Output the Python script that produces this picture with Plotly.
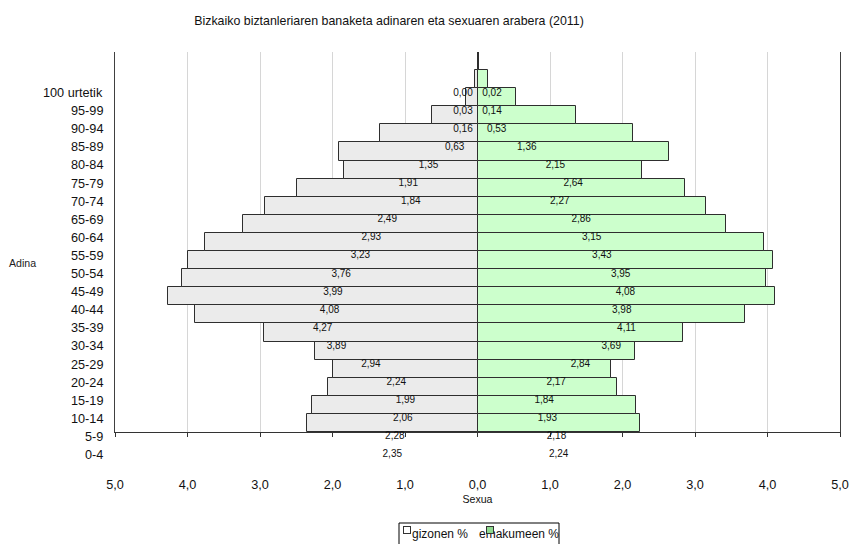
import plotly.graph_objects as go

# Bizkaia 2011: population share (%) by age group and sex
age_groups = ["0-4", "5-9", "10-14", "15-19", "20-24", "25-29", "30-34", "35-39",
              "40-44", "45-49", "50-54", "55-59", "60-64", "65-69", "70-74", "75-79",
              "80-84", "85-89", "90-94", "95-99", "100 urtetik"]
men_pct = [2.35, 2.28, 2.06, 1.99, 2.24, 2.94, 3.89, 4.27, 4.08, 3.99, 3.76, 3.23,
           2.93, 2.49, 1.84, 1.91, 1.35, 0.63, 0.16, 0.03, 0.00]
women_pct = [2.24, 2.18, 1.93, 1.84, 2.17, 2.84, 3.69, 4.11, 3.98, 4.08, 3.95, 3.43,
             3.15, 2.86, 2.27, 2.64, 2.15, 1.36, 0.53, 0.14, 0.02]
x_tick_vals = [-5, -4, -3, -2, -1, 0, 1, 2, 3, 4, 5]
x_tick_text = ["5,0", "4,0", "3,0", "2,0", "1,0", "0,0", "1,0", "2,0", "3,0", "4,0", "5,0"]

FONT = "Arial, 'Liberation Sans', sans-serif"
W, H = 853, 544
L, R, T, B = 115, 13, 52, 74
PW, PH = W - L - R, H - T - B
BAR_BOTTOM = 432            # pixel row of the horizontal axis line
LABEL_SHIFT = 1.77          # category/value labels sit this many rows below their bars
MIN_HALF = 0.2              # keep value labels clear of the centre line


def fmt(v):
    return f"{v:.2f}".replace(".", ",")


def px_x(p):
    return (p - L) / PW


def px_y(p):
    return (H - B - p) / PH


idx = list(range(len(age_groups)))
n_rows = len(age_groups)
bar_dom0 = (H - B - BAR_BOTTOM) / PH
row_px = (BAR_BOTTOM - T) / n_rows
label_span = PH / row_px
label_top = n_rows - 0.5 + LABEL_SHIFT

fig = go.Figure()

fig.add_trace(go.Bar(
    name="gizonen %", y=idx, x=[-v for v in men_pct], orientation="h", width=1,
    marker=dict(color="#EBEBEB", line=dict(color="#2E2E2E", width=1)),
    hoverinfo="skip", showlegend=False))
fig.add_trace(go.Bar(
    name="emakumeen %", y=idx, x=women_pct, orientation="h", width=1,
    marker=dict(color="#CCFFCC", line=dict(color="#2E2E2E", width=1)),
    hoverinfo="skip", showlegend=False))

# value labels
fig.add_trace(go.Scatter(
    x=[-max(v / 2, MIN_HALF) for v in men_pct], y=idx, text=[fmt(v) for v in men_pct],
    mode="text", textposition="middle center", textfont=dict(size=10, color="#111"),
    xaxis="x2", yaxis="y2", cliponaxis=False, hoverinfo="skip", showlegend=False))
fig.add_trace(go.Scatter(
    x=[max(v / 2, MIN_HALF) for v in women_pct], y=idx, text=[fmt(v) for v in women_pct],
    mode="text", textposition="middle center", textfont=dict(size=10, color="#111"),
    xaxis="x2", yaxis="y2", cliponaxis=False, hoverinfo="skip", showlegend=False))

# age-group labels, placed on the shifted label axis
annotations = [
    dict(text=g, x=0, xref="paper", xanchor="right", xshift=-10,
         y=i, yref="y2", yanchor="middle", showarrow=False,
         font=dict(size=12.7, color="#111"))
    for i, g in zip(idx, age_groups)
]

annotations += [
    dict(text="Adina", x=px_x(22.5), y=px_y(263), xref="paper", yref="paper",
         showarrow=False, font=dict(size=10.6, color="#222"), xanchor="center", yanchor="middle"),
    dict(text="gizonen %", x=px_x(410), y=px_y(534), xref="paper", yref="paper",
         showarrow=False, font=dict(size=12, color="#111"), xanchor="left", yanchor="middle"),
    dict(text="emakumeen %", x=px_x(476.5), y=px_y(534), xref="paper", yref="paper",
         showarrow=False, font=dict(size=12, color="#111"), xanchor="left", yanchor="middle"),
    dict(text=" ", x=px_x(406.5), y=px_y(534), xref="paper", yref="paper", showarrow=False,
         width=6, height=6, bgcolor="#FFFFFF", bordercolor="#333", borderwidth=1, borderpad=0,
         font=dict(size=4)),
    dict(text=" ", x=px_x(489.5), y=px_y(534), xref="paper", yref="paper", showarrow=False,
         width=6, height=6, bgcolor="#8FD98F", bordercolor="#333", borderwidth=1, borderpad=0,
         font=dict(size=4)),
]

shapes = [
    dict(type="rect", xref="paper", yref="paper", x0=px_x(399), x1=px_x(559),
         y0=px_y(523), y1=px_y(560), line=dict(color="#000", width=1), layer="below"),
]

fig.update_layout(
    template="none",
    width=W, height=H,
    margin=dict(l=L, r=R, t=T, b=B),
    paper_bgcolor="#FFFFFF", plot_bgcolor="rgba(0,0,0,0)",
    font=dict(family=FONT, color="#111"),
    barmode="overlay", bargap=0,
    title=dict(text="Bizkaiko biztanleriaren banaketa adinaren eta sexuaren arabera (2011)",
               x=389 / W, xref="container", xanchor="center",
               y=1 - 20.5 / H, yref="container", yanchor="middle",
               font=dict(size=12.4, color="#111")),
    xaxis=dict(range=[-5, 5], domain=[0, 1], anchor="y",
               tickvals=x_tick_vals, ticktext=x_tick_text, tickfont=dict(size=12.7),
               ticks="outside", ticklen=4, tickcolor="#333", ticklabelstandoff=37,
               showline=True, linecolor="#333", linewidth=1,
               showgrid=True, gridcolor="#D6D6D6", gridwidth=1, zeroline=False,
               title=dict(text="Sexua", font=dict(size=10.6), standoff=4)),
    yaxis=dict(range=[-0.5, n_rows - 0.5], domain=[bar_dom0, 1], anchor="x",
               showticklabels=False, ticks="", showline=True, mirror=True,
               linecolor="#404040", linewidth=1, showgrid=False, zeroline=False),
    xaxis2=dict(range=[-5, 5], domain=[0, 1], anchor="y2", visible=False),
    yaxis2=dict(range=[label_top - label_span, label_top], domain=[0, 1], anchor="x2",
                visible=False),
    annotations=annotations,
    shapes=shapes,
)

fig.write_html("out.html")
